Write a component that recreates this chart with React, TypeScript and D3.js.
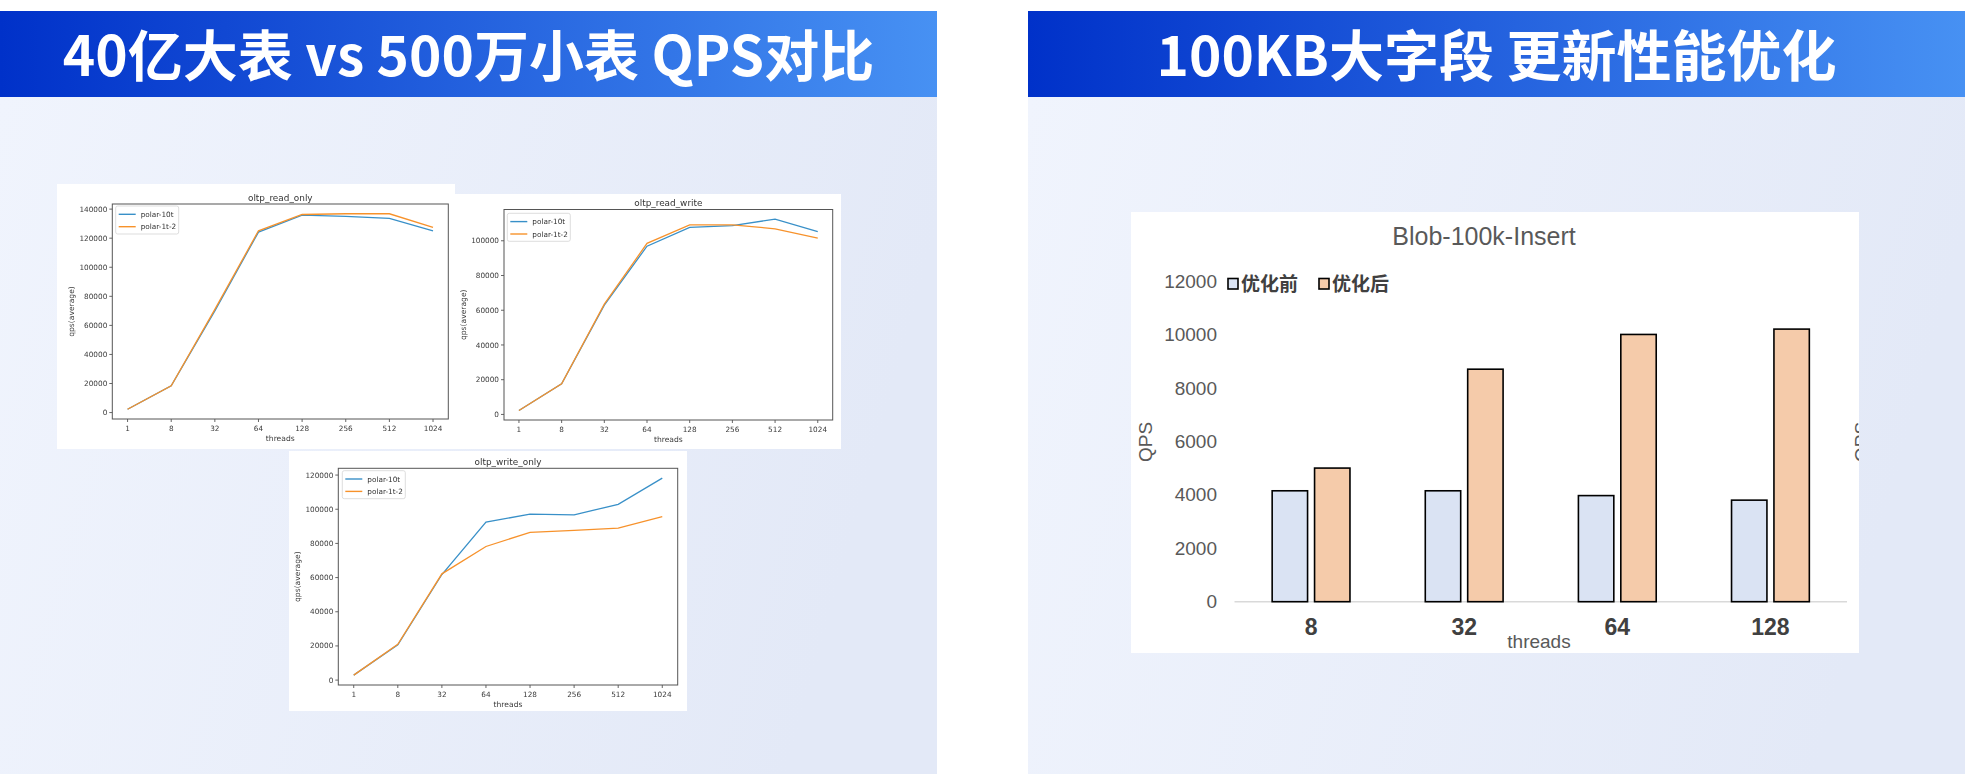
import React from "react";
import * as d3 from "d3";

// ---------- data ----------
const threads = ["1", "8", "32", "64", "128", "256", "512", "1024"];
const seriesNames = ["polar-10t", "polar-1t-2"];

const readOnly10t = [2300, 18400, 70000, 124200, 135900, 135000, 133600, 125100];
const readOnly1t2 = [2300, 18400, 71000, 125100, 136300, 136800, 136800, 127400];
const readOnlyTicks = [0, 20000, 40000, 60000, 80000, 100000, 120000, 140000];

const readWrite10t = [2300, 17700, 62900, 96900, 107700, 108700, 112500, 105200];
const readWrite1t2 = [2300, 17700, 63500, 98500, 109200, 109200, 106900, 101500];
const readWriteTicks = [0, 20000, 40000, 60000, 80000, 100000];

const writeOnly10t = [2900, 20600, 61800, 92500, 97100, 96700, 102900, 118200];
const writeOnly1t2 = [2900, 21000, 62200, 78200, 86500, 87600, 89000, 95700];
const writeOnlyTicks = [0, 20000, 40000, 60000, 80000, 100000, 120000];

const blobThreads = ["8", "32", "64", "128"];
const blobBefore = [4150, 4150, 3970, 3800];
const blobAfter = [5000, 8700, 10000, 10200];
const blobTicks = [0, 2000, 4000, 6000, 8000, 10000, 12000];
const blobLegend = ["优化前", "优化后"];

const leftTitle = "40亿大表 vs 500万小表 QPS对比";
const rightTitle = "100KB大字段 更新性能优化";

// ---------- styles ----------
const BLUE = "#3990c8";
const ORANGE = "#f7922c";
const MPL_FONT = "'DejaVu Sans', sans-serif";
const XL_FONT = "'Liberation Sans', Arial, sans-serif";
const CJK = "'Noto Sans CJK SC', sans-serif";

type Rect = { x: number; y: number; w: number; h: number };

function LineChart(props: {
  box: Rect;
  plot: Rect;
  title: string;
  yTicks: number[];
  a: number[];
  b: number[];
  legendOffset: [number, number];
}) {
  const { box, plot, title, yTicks, a, b, legendOffset } = props;
  const x = d3
    .scalePoint<string>()
    .domain(threads)
    .range([plot.x, plot.x + plot.w])
    .padding(0.35);
  const all = [...a, ...b];
  const mn = d3.min(all) as number;
  const mx = d3.max(all) as number;
  const pad = (mx - mn) * 0.05;
  const y = d3
    .scaleLinear()
    .domain([mn - pad, mx + pad])
    .range([plot.y + plot.h, plot.y]);
  const line = d3
    .line<number>()
    .x((_, i) => x(threads[i]) as number)
    .y((d) => y(d));
  const bottom = plot.y + plot.h;
  const lx = plot.x + legendOffset[0];
  const ly = plot.y + legendOffset[1];
  const tickFs = 7.3;
  const colors = [BLUE, ORANGE];
  return (
    <g filter="url(#soft)">
      <rect x={box.x} y={box.y} width={box.w} height={box.h} fill="#fff" />
      <text
        x={plot.x + plot.w / 2}
        y={plot.y - 3.5}
        textAnchor="middle"
        fontFamily={MPL_FONT}
        fontSize={8.9}
        fill="#333"
      >
        {title}
      </text>
      {yTicks.map((t) => (
        <g key={"y" + t}>
          <line x1={plot.x - 3} x2={plot.x} y1={y(t)} y2={y(t)} stroke="#555" strokeWidth={0.9} />
          <text
            x={plot.x - 5}
            y={y(t)}
            dy="0.35em"
            textAnchor="end"
            fontFamily={MPL_FONT}
            fontSize={tickFs}
            fill="#3a3a3a"
          >
            {t}
          </text>
        </g>
      ))}
      {threads.map((t) => (
        <g key={"x" + t}>
          <line x1={x(t)} x2={x(t)} y1={bottom} y2={bottom + 3} stroke="#555" strokeWidth={0.9} />
          <text
            x={x(t)}
            y={bottom + 9}
            dy="0.35em"
            textAnchor="middle"
            fontFamily={MPL_FONT}
            fontSize={tickFs}
            fill="#3a3a3a"
          >
            {t}
          </text>
        </g>
      ))}
      <text
        x={plot.x + plot.w / 2}
        y={bottom + 19}
        dy="0.35em"
        textAnchor="middle"
        fontFamily={MPL_FONT}
        fontSize={7.6}
        fill="#3a3a3a"
      >
        threads
      </text>
      <text
        transform={`translate(${plot.x - 41},${plot.y + plot.h / 2}) rotate(-90)`}
        dy="0.35em"
        textAnchor="middle"
        fontFamily={MPL_FONT}
        fontSize={7.6}
        fill="#3a3a3a"
      >
        qps(average)
      </text>
      <path d={line(a) as string} fill="none" stroke={BLUE} strokeWidth={1.3} />
      <path d={line(b) as string} fill="none" stroke={ORANGE} strokeWidth={1.3} />
      <rect x={plot.x} y={plot.y} width={plot.w} height={plot.h} fill="none" stroke="#555" strokeWidth={1} />
      <rect x={lx} y={ly} width={63} height={28} rx={2} fill="#fff" stroke="#d4d4d4" strokeWidth={0.8} />
      {seriesNames.map((n, i) => (
        <g key={n}>
          <line
            x1={lx + 3}
            x2={lx + 20}
            y1={ly + 8.3 + i * 12.4}
            y2={ly + 8.3 + i * 12.4}
            stroke={colors[i]}
            strokeWidth={1.4}
          />
          <text
            x={lx + 25}
            y={ly + 8.3 + i * 12.4}
            dy="0.35em"
            fontFamily={MPL_FONT}
            fontSize={tickFs}
            fill="#333"
          >
            {n}
          </text>
        </g>
      ))}
    </g>
  );
}

function BlobChart() {
  const box = { x: 1131, y: 212, w: 728, h: 441 };
  const baseY = 601.7;
  const y = d3.scaleLinear().domain([0, 12000]).range([baseY, 281]);
  const x = d3.scaleBand<string>().domain(blobThreads).range([1234.5, 1847]);
  const bw = 35.4;
  const gap = 3.5;
  const fills = ["#dae3f3", "#f5cbaa"];
  return (
    <g>
      <defs>
        <clipPath id="blobClip">
          <rect x={box.x} y={box.y} width={box.w} height={box.h} />
        </clipPath>
      </defs>
      <rect x={box.x} y={box.y} width={box.w} height={box.h} fill="#fff" />
      <text x={1484} y={236.5} dy="0.35em" textAnchor="middle" fontFamily={XL_FONT} fontSize={25} fill="#595959">
        Blob-100k-Insert
      </text>
      {blobTicks.map((t) => (
        <text
          key={t}
          x={1217}
          y={y(t)}
          dy="0.35em"
          textAnchor="end"
          fontFamily={XL_FONT}
          fontSize={19}
          fill="#595959"
        >
          {t}
        </text>
      ))}
      <line x1={1234.5} x2={1847} y1={baseY} y2={baseY} stroke="#d9d9d9" strokeWidth={1.5} />
      {blobThreads.map((c, i) => {
        const cx = (x(c) as number) + x.bandwidth() / 2;
        return (
          <g key={c}>
            <rect
              x={cx - gap - bw}
              y={y(blobBefore[i])}
              width={bw}
              height={baseY - y(blobBefore[i])}
              fill={fills[0]}
              stroke="#000"
              strokeWidth={1.6}
            />
            <rect
              x={cx + gap}
              y={y(blobAfter[i])}
              width={bw}
              height={baseY - y(blobAfter[i])}
              fill={fills[1]}
              stroke="#000"
              strokeWidth={1.6}
            />
            <text
              x={cx}
              y={626.7}
              dy="0.35em"
              textAnchor="middle"
              fontFamily={XL_FONT}
              fontWeight={700}
              fontSize={23}
              fill="#404040"
            >
              {c}
            </text>
          </g>
        );
      })}
      <text x={1539} y={641} dy="0.35em" textAnchor="middle" fontFamily={XL_FONT} fontSize={19} fill="#595959">
        threads
      </text>
      <text
        transform="translate(1145,442) rotate(-90)"
        dy="0.35em"
        textAnchor="middle"
        fontFamily={XL_FONT}
        fontSize={19}
        fill="#595959"
      >
        QPS
      </text>
      <g clipPath="url(#blobClip)">
        <text
          transform="translate(1861,442) rotate(-90)"
          dy="0.35em"
          textAnchor="middle"
          fontFamily={XL_FONT}
          fontSize={19}
          fill="#595959"
        >
          QPS
        </text>
      </g>
      {blobLegend.map((n, i) => {
        const lx = i === 0 ? 1228 : 1319;
        return (
          <g key={n}>
            <rect x={lx} y={278.5} width={10} height={10.5} fill={fills[i]} stroke="#000" strokeWidth={1.6} />
            <text
              x={lx + 13}
              y={284}
              dy="0.36em"
              fontFamily={CJK}
              fontWeight={700}
              fontSize={19}
              fill="#404040"
            >
              {n}
            </text>
          </g>
        );
      })}
    </g>
  );
}

export default function App() {
  return (
    <svg
      width={1965}
      height={774}
      style={{ position: "absolute", left: 0, top: 0, display: "block" }}
    >
      <defs>
        <linearGradient id="headGrad" x1="0" y1="0" x2="1" y2="0">
          <stop offset="0" stopColor="#0031c9" />
          <stop offset="1" stopColor="#4791f3" />
        </linearGradient>
        <linearGradient id="panelGrad" x1="0" y1="0" x2="1" y2="0.2">
          <stop offset="0" stopColor="#f0f4fd" />
          <stop offset="1" stopColor="#e3e9f7" />
        </linearGradient>
        <filter id="soft" x="-5%" y="-5%" width="110%" height="110%">
          <feGaussianBlur stdDeviation="0.35" />
        </filter>
      </defs>
      <rect x={0} y={0} width={1965} height={774} fill="#fff" />
      <rect x={0} y={97} width={937} height={677} fill="url(#panelGrad)" />
      <rect x={1028} y={97} width={937} height={677} fill="url(#panelGrad)" />
      <rect x={0} y={11} width={937} height={86} fill="url(#headGrad)" />
      <rect x={1028} y={11} width={937} height={86} fill="url(#headGrad)" />
      <text
        x={468.5}
        y={56}
        dy="0.36em"
        textAnchor="middle"
        fontFamily={CJK}
        fontWeight={700}
        fontSize={55}
        fill="#fff"
      >
        {leftTitle}
      </text>
      <text
        x={1496.5}
        y={56}
        dy="0.36em"
        textAnchor="middle"
        fontFamily={CJK}
        fontWeight={700}
        fontSize={55}
        fill="#fff"
      >
        {rightTitle}
      </text>

      <LineChart
        box={{ x: 57, y: 184, w: 398, h: 265 }}
        plot={{ x: 112.3, y: 204, w: 336, h: 215 }}
        title="oltp_read_only"
        yTicks={readOnlyTicks}
        a={readOnly10t}
        b={readOnly1t2}
        legendOffset={[3.4, 2]}
      />
      <LineChart
        box={{ x: 455, y: 194, w: 386, h: 255 }}
        plot={{ x: 504, y: 209.5, w: 328.7, h: 210.5 }}
        title="oltp_read_write"
        yTicks={readWriteTicks}
        a={readWrite10t}
        b={readWrite1t2}
        legendOffset={[3.3, 3.8]}
      />
      <LineChart
        box={{ x: 289, y: 451, w: 398, h: 260 }}
        plot={{ x: 338.3, y: 468.3, w: 339.4, h: 216.7 }}
        title="oltp_write_only"
        yTicks={writeOnlyTicks}
        a={writeOnly10t}
        b={writeOnly1t2}
        legendOffset={[4, 2.4]}
      />
      <BlobChart />
    </svg>
  );
}
